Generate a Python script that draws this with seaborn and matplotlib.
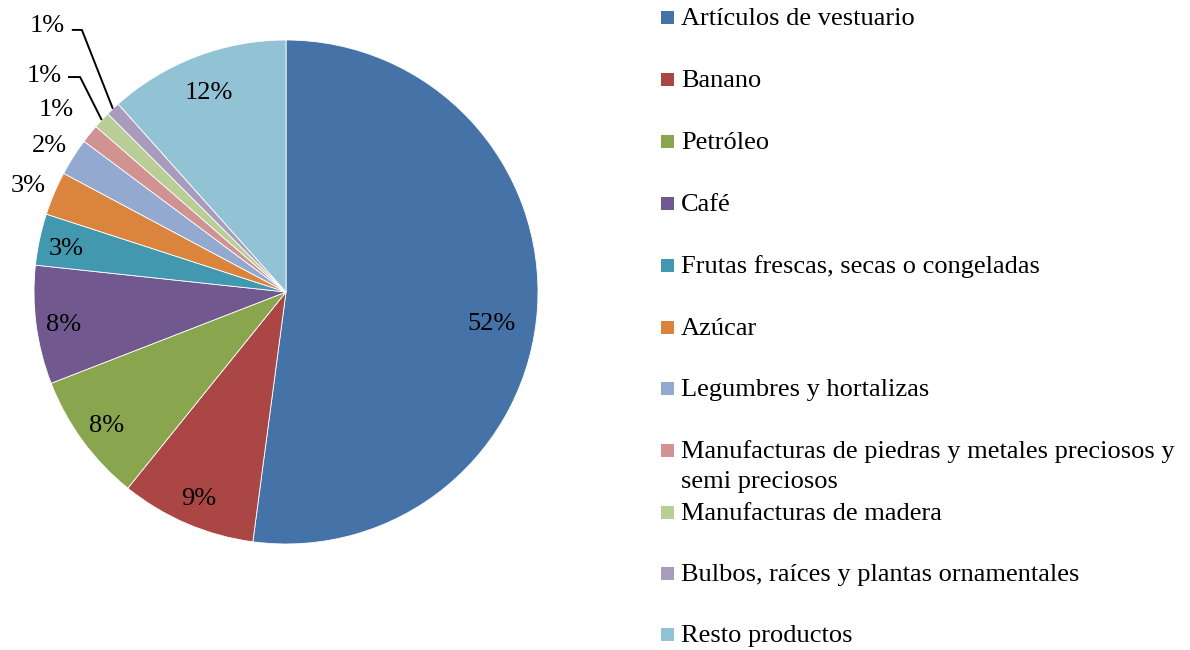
import numpy as np
import matplotlib
matplotlib.use("Agg")
import matplotlib.pyplot as plt
from matplotlib.patches import Rectangle
import seaborn as sns

categories = [
    "Artículos de vestuario",
    "Banano",
    "Petróleo",
    "Café",
    "Frutas frescas, secas o congeladas",
    "Azúcar",
    "Legumbres y hortalizas",
    "Manufacturas de piedras y metales preciosos y\nsemi preciosos",
    "Manufacturas de madera",
    "Bulbos, raíces y plantas ornamentales",
    "Resto productos",
]
values = [52.1, 8.7, 8.3, 7.6, 3.3, 2.8, 2.4, 1.2, 1.1, 0.9, 11.6]
labels = ["52%", "9%", "8%", "8%", "3%", "3%", "2%", "1%", "1%", "1%", "12%"]
colors = ["#4572A7", "#AA4643", "#89A54E", "#71588F", "#4198AF", "#DB843D",
          "#93A9CF", "#D19392", "#B9CD96", "#A99BBD", "#92C3D5"]

sns.set_style("white")
plt.rcParams["font.family"] = ["Liberation Serif", "DejaVu Serif"]
plt.rcParams["text.color"] = "black"
FS = 19

W, H = 1190, 650
fig = plt.figure(figsize=(W / 100, H / 100), dpi=100)

# pie axes: center (286, 292) px, radius 252 px
cx, cy, R = 286, 292, 252
lim = 1.13
ax = fig.add_axes([(cx - lim * R) / W, (H - cy - lim * R) / H, 2 * lim * R / W, 2 * lim * R / H])

wedges, _ = ax.pie(values, colors=colors, startangle=90, counterclock=False,
                   radius=1.0, wedgeprops=dict(edgecolor="white", linewidth=0.6))
ax.set_aspect("auto")
ax.set_xlim(-lim, lim)
ax.set_ylim(-lim, lim)
ax.axis("off")

# label radial distances and angular shifts (style)
dists = [0.825, 0.88, 0.88, 0.89, 0.89, 1.11, 1.11, 1.17, None, None, 0.86]
shifts = [-4.1, 0, 0, 0, 0, 0, 0, 0, 0, 0, 0]
ydown = 0.014
for i, (w, lab) in enumerate(zip(wedges, labels)):
    mid = np.deg2rad((w.theta1 + w.theta2) / 2)
    ux, uy = np.cos(mid), np.sin(mid)
    if dists[i] is not None:
        d = dists[i]
        a = mid + np.deg2rad(shifts[i])
        ax.text(d * np.cos(a), d * np.sin(a) - ydown, lab, ha="center", va="center",
                fontsize=FS, clip_on=False)
    else:
        # leader line labels
        if i == 8:
            tx, ty, hx0, hx1, hy = -0.96, 0.873, -0.865, -0.817, 0.853
        else:
            tx, ty, hx0, hx1, hy = -0.946, 1.07, -0.85, -0.81, 1.04
        ax.text(tx, ty - ydown, lab, ha="center", va="center", fontsize=FS, clip_on=False)
        ax.plot([hx0, hx1, ux * 1.0], [hy, hy, uy * 1.0], color="black", lw=1.4,
                clip_on=False, solid_capstyle="butt")

# legend drawn manually
ys = [17, 79, 141, 203, 265, 327, 388, 450, 512, 573, 634]
for cat, col, y in zip(categories, colors, ys):
    fig.patches.append(Rectangle((661 / W, (H - y - 7) / H), 13 / W, 13 / H,
                                 transform=fig.transFigure, facecolor=col, edgecolor="none"))
    for k, line in enumerate(cat.split("\n")):
        fig.text(681 / W, (H - y - 30 * k - 2) / H, line, ha="left", va="center", fontsize=FS)

fig.savefig("out.png", dpi=100, facecolor="white")
